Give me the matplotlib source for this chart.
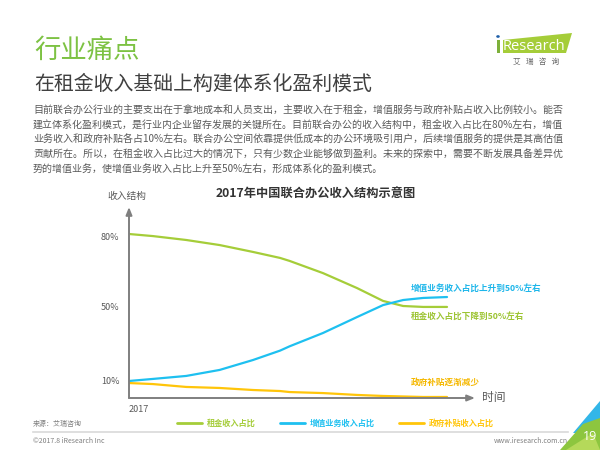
import numpy as np
import matplotlib
matplotlib.use("Agg")
import matplotlib.pyplot as plt
from matplotlib.patches import Polygon, Circle

plt.rcParams['font.family'] = ['Noto Sans CJK SC', 'DejaVu Sans']

# data (time index 0..10, share in %)
t = [0, 0.75, 1.8, 2.85, 3.9, 4.75, 5.05, 6.1, 7.17, 7.99, 8.62, 9.25, 10.0]
rent = [81.3, 80.4, 78.7, 76.5, 73.5, 70.9, 69.6, 64.3, 57.8, 52.2, 50.0, 49.5, 49.5]
value_added = [10.0, 11.1, 12.7, 15.9, 21.2, 26.2, 28.5, 35.6, 44.1, 50.4, 52.6, 53.5, 53.9]
subsidy = [8.8, 8.2, 6.5, 5.9, 4.7, 4.1, 3.5, 2.9, 1.8, 1.2, 0.9, 0.6, 0.6]

series_names = ['租金收入占比', '增值业务收入占比', '政府补贴收入占比']
end_notes = ['租金收入占比下降到50%左右', '增值业务收入占比上升到50%左右', '政府补贴逐渐减少']
y_ticks = [10, 50, 80]
y_tick_labels = ['10%', '50%', '80%']
x_tick_labels = ['2017']

GREEN = '#A5CD39'
BLUE = '#1EC0F0'
YELLOW = '#FFC50A'
GRAY = '#595959'

title = '行业痛点'
subtitle = '在租金收入基础上构建体系化盈利模式'
body = [
    '目前联合办公行业的主要支出在于拿地成本和人员支出，主要收入在于租金，增值服务与政府补贴占收入比例较小。能否',
    '建立体系化盈利模式，是行业内企业留存发展的关键所在。目前联合办公的收入结构中，租金收入占比在80%左右，增值',
    '业务收入和政府补贴各占10%左右。联合办公空间依靠提供低成本的办公环境吸引用户，后续增值服务的提供是其高估值',
    '贡献所在。所以，在租金收入占比过大的情况下，只有少数企业能够做到盈利。未来的探索中，需要不断发展具备差异优',
    '势的增值业务，使增值业务收入占比上升至50%左右，形成体系化的盈利模式。',
]

W, H = 600, 450
fig = plt.figure(figsize=(6, 4.5), dpi=100)


def px(x, y):
    # pixel position from the top-left corner -> figure fraction
    return (x / W, 1 - y / H)


def ftext(x, y, s, **kw):
    return fig.text(*px(x, y), s, **kw)


def fpoly(points, color):
    fig.patches.append(Polygon([px(x, y) for x, y in points], closed=True,
                               transform=fig.transFigure, facecolor=color, edgecolor='none'))


# header
ftext(34, 50, title, fontsize=19, color='#7DC243', va='center')
ftext(34, 84, subtitle, fontsize=14.3, color='#404040', va='center')
for i, line in enumerate(body):
    ftext(33, 111 + i * 14.5, line, fontsize=7.2, color=GRAY, va='center')

# logo
fpoly([(503, 40), (572, 33), (566, 53), (503, 53)], '#A5CD39')
fig.patches.append(Circle(px(498, 36.5), 1.8 / W, transform=fig.transFigure, facecolor='#1F5FA8', edgecolor='none'))
fpoly([(496.5, 40), (500, 40), (500, 53), (496.5, 53)], '#7DB03A')
ftext(503, 46, 'Research', fontsize=10.5, color='white', va='center', family=['Open Sans', 'DejaVu Sans'])
ftext(536, 62, '艾   瑞   咨   询', fontsize=5.5, color='#666666', va='center', ha='center')

# chart
ax = fig.add_axes([129 / W, 1 - 398 / H, (475 - 129) / W, (398 - 207) / H])
knots_v = [0, 10, 50, 80, 93]
knots_p = [0, 17, 92, 161, 191]
ax.set_yscale('function', functions=(lambda v: np.interp(v, knots_v, knots_p),
                                      lambda p: np.interp(p, knots_p, knots_v)))
ax.set_ylim(0, 93)
ax.set_xlim(0, 10.88)

ax.plot(t, subsidy, color=YELLOW, lw=1.6, solid_capstyle='round', label=series_names[2])
ax.plot(t, rent, color=GREEN, lw=1.6, solid_capstyle='round', label=series_names[0])
ax.plot(t, value_added, color=BLUE, lw=1.6, solid_capstyle='round', label=series_names[1])

for s in ax.spines.values():
    s.set_visible(False)
arrow = dict(arrowstyle='-|>,head_length=0.45,head_width=0.18', color='#7F7F7F', lw=1.4, shrinkA=0, shrinkB=0)
ax.annotate('', xy=(0, 1), xytext=(0, 0), xycoords='axes fraction', arrowprops=arrow)
ax.annotate('', xy=(1, 0), xytext=(0, 0), xycoords='axes fraction', arrowprops=arrow)

ax.set_yticks(y_ticks)
ax.set_yticklabels(y_tick_labels)
ax.yaxis.set_minor_locator(plt.NullLocator())
ax.set_xticks([0])
ax.set_xticklabels(x_tick_labels, ha='left')
ax.tick_params(axis='y', length=0, pad=7, labelsize=6.5, labelcolor=GRAY)
ax.tick_params(axis='x', length=0, pad=5, labelsize=6.5, labelcolor=GRAY)
ax.patch.set_alpha(0)

note_x = 8.85
ax.text(note_x, 57.8, end_notes[1], color='#1DB6EA', fontsize=6.2, fontweight='bold', va='center')
ax.text(note_x, 44.7, end_notes[0], color='#9DC433', fontsize=6.2, fontweight='bold', va='center')
ax.text(note_x, 9.4, end_notes[2], color='#F5B800', fontsize=6.2, fontweight='bold', va='center')

ftext(482, 398, '时间', fontsize=8.5, color=GRAY, va='center')
ftext(127, 196, '收入结构', fontsize=7, color=GRAY, va='center', ha='center')
ftext(316, 194, '2017年中国联合办公收入结构示意图', fontsize=8.8, color='#333333', fontweight='bold',
      va='center', ha='center')

# legend
handles, labels = ax.get_legend_handles_labels()
order = [1, 2, 0]
leg = fig.legend([handles[i] for i in order], [labels[i] for i in order], ncol=3, frameon=False,
                 loc='center left', bbox_to_anchor=px(177, 423), fontsize=5.9,
                 handlelength=3.1, handletextpad=0.5, columnspacing=3.0, borderpad=0, borderaxespad=0)
for txt, c in zip(leg.get_texts(), [GREEN, BLUE, YELLOW]):
    txt.set_color(c)
    txt.set_fontweight('bold')
for ln in leg.get_lines():
    ln.set_linewidth(2)

# footer
ftext(33, 424, '来源：艾瑞咨询', fontsize=5, color='#7F7F7F', va='center')
fig.add_artist(plt.Line2D([33 / W, 568 / W], [1 - 432 / H, 1 - 432 / H], color='#D9D9D9', lw=1.2))
ftext(33, 441, '©2017.8 iResearch Inc', fontsize=5, color='#7F7F7F', va='center')
ftext(568, 441, 'www.iresearch.com.cn', fontsize=5, color='#7F7F7F', va='center', ha='right')

# page corner
fpoly([(573, 433), (600, 401), (600, 433)], '#33B6E8')
fpoly([(560, 450), (583, 424), (600, 418), (600, 450)], '#8DC63F')
fpoly([(566, 450), (593, 433), (600, 450)], '#B5D95A')
ftext(590, 437, '19', fontsize=9, color='white', va='center', ha='center', family=['Open Sans', 'DejaVu Sans'])

fig.savefig('out.png', dpi=100)
